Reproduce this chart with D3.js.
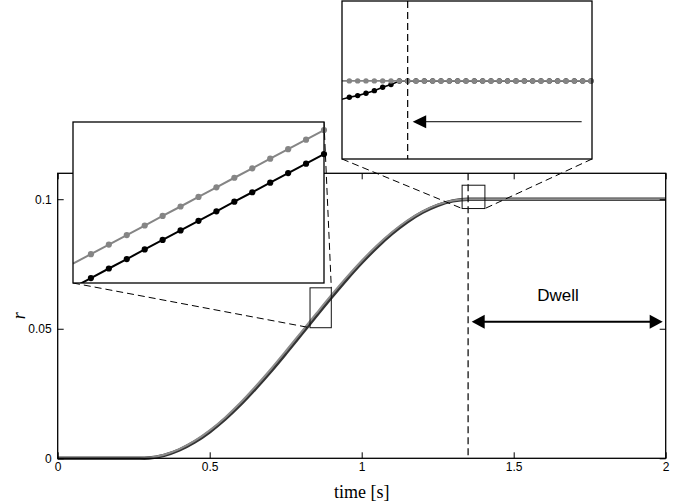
<!DOCTYPE html>
<html>
<head>
<meta charset="utf-8">
<script src="https://cdn.jsdelivr.net/npm/d3@7"></script>
<style>
  body { margin: 0; background: #fff; }
  text { font-family: "Liberation Sans", Arial, sans-serif; }
</style>
</head>
<body>
<svg id="chart" width="686" height="504"></svg>
<script>
// ---- data -------------------------------------------------------------
// time samples [s]
const time = [0, 0.25, 0.27,
  0.30, 0.35, 0.40, 0.45, 0.50, 0.55, 0.60, 0.65, 0.70, 0.75, 0.80,
  0.85, 0.90, 0.95, 1.00, 1.05, 1.10, 1.15, 1.20, 1.25, 1.30,
  1.35, 1.40, 2.00];
// reference position (grey trace)
const rRef = [0, 0, 0,
  0.00019, 0.00135, 0.00353, 0.00670, 0.01078, 0.01569, 0.02132, 0.02761, 0.03427, 0.04132, 0.04855,
  0.05580, 0.06294, 0.06980, 0.07625, 0.08214, 0.08735, 0.09177, 0.09532, 0.09790, 0.09947,
  0.1, 0.1, 0.1];
// measured position (black trace)
const rMeas = [0, 0, 0,
  0.00011, 0.00115, 0.00321, 0.00626, 0.01024, 0.01506, 0.02061, 0.02683, 0.03344, 0.04046, 0.04768,
  0.05494, 0.06210, 0.06900, 0.07551, 0.08147, 0.08677, 0.09129, 0.09495, 0.09765, 0.09934,
  0.09999, 0.1, 0.1];

const xTicks = [0, 0.5, 1, 1.5, 2];
const yTicks = [0, 0.05, 0.1];
const xTickLabels = ["0", "0.5", "1", "1.5", "2"];
const yTickLabels = ["0", "0.05", "0.1"];

// dwell phase: starts when the trace settles, lasts until the end
const dwellStart = 1.35;
const dwellEnd = 2.0;
const dwellLabel = "Dwell";

// detail A: mid-ramp, samples every 5 ms
const windowAx = [0.83, 0.90];
const windowAy = [0.0504, 0.0658];
const insetAy = [0.0515, 0.0636];
const tA = [0.830, 0.835, 0.840, 0.845, 0.850, 0.855, 0.860, 0.865,
  0.870, 0.875, 0.880, 0.885, 0.890, 0.895, 0.900];
const refA = [0.05295, 0.05367, 0.05439, 0.05510, 0.05582, 0.05654, 0.05725, 0.05797,
  0.05869, 0.05941, 0.06012, 0.06084, 0.06156, 0.06227, 0.06299];
const measA = [0.05115, 0.05187, 0.05259, 0.05330, 0.05402, 0.05474, 0.05545, 0.05617,
  0.05689, 0.05761, 0.05832, 0.05904, 0.05976, 0.06047, 0.06119];

// detail B: arrival at the set point, samples every 2.5 ms
const windowBx = [1.3303, 1.4053];
const windowBy = [0.0964, 0.1054];
const insetBy = [0.0956, 0.1045];
const tB = [1.3300, 1.3325, 1.3350, 1.3375, 1.3400, 1.3425, 1.3450, 1.3475,
  1.3500, 1.3525, 1.3550, 1.3575, 1.3600, 1.3625, 1.3650, 1.3675,
  1.3700, 1.3725, 1.3750, 1.3775, 1.3800, 1.3825, 1.3850, 1.3875,
  1.3900, 1.3925, 1.3950, 1.3975, 1.4000, 1.4025, 1.4050];
const refB = [0.1, 0.1, 0.1, 0.1, 0.1, 0.1, 0.1, 0.1,
  0.1, 0.1, 0.1, 0.1, 0.1, 0.1, 0.1, 0.1,
  0.1, 0.1, 0.1, 0.1, 0.1, 0.1, 0.1, 0.1,
  0.1, 0.1, 0.1, 0.1, 0.1, 0.1, 0.1];
const measB = [0.09895, 0.09908, 0.09917, 0.09930, 0.09945, 0.09964, 0.09979, 0.09999,
  0.1, 0.1, 0.1, 0.1, 0.1, 0.1, 0.1, 0.1,
  0.1, 0.1, 0.1, 0.1, 0.1, 0.1, 0.1, 0.1,
  0.1, 0.1, 0.1, 0.1, 0.1, 0.1, 0.1];
// pointer inside detail B (from, to) at level
const pointerB = [1.4022, 1.3515];
const pointerBy = 0.0977;

// ---- layout -----------------------------------------------------------
const svg = d3.select("#chart");
const plot = { left: 57.7, right: 665.7, top: 173.3, bottom: 458.3 };
const boxA = { left: 73, right: 324, top: 122, bottom: 283 };
const boxB = { left: 342, right: 592, top: 1, bottom: 159 };
const GREY = "#858585";

const x = d3.scaleLinear().domain([0, 2]).range([plot.left, plot.right]);
const y = d3.scaleLinear().domain([0, 0.11]).range([plot.bottom, plot.top]);

const mainRef = time.map((t, i) => [t, rRef[i]]);
const mainMeas = time.map((t, i) => [t, rMeas[i]]);

const line = d3.line().x(d => x(d[0])).y(d => y(d[1])).curve(d3.curveMonotoneX);

// ---- main axes --------------------------------------------------------
const main = svg.append("g");

main.append("path").datum(mainMeas).attr("d", line)
  .attr("fill", "none").attr("stroke", "#333").attr("stroke-width", 3.4);
main.append("path").datum(mainRef).attr("d", line)
  .attr("fill", "none").attr("stroke", "#8c8c8c").attr("stroke-width", 2);

const tick = 6;
main.append("g").attr("transform", `translate(0,${plot.bottom})`)
  .call(d3.axisBottom(x).tickValues(xTicks).tickSizeInner(-tick).tickSizeOuter(0)
    .tickPadding(4).tickFormat((d, i) => xTickLabels[i]));
main.append("g").attr("transform", `translate(0,${plot.top})`)
  .call(d3.axisTop(x).tickValues(xTicks).tickSizeInner(-tick).tickSizeOuter(0).tickFormat(""));
main.append("g").attr("transform", `translate(${plot.left},0)`)
  .call(d3.axisLeft(y).tickValues(yTicks).tickSizeInner(-tick).tickSizeOuter(0)
    .tickPadding(6).tickFormat((d, i) => yTickLabels[i]));
main.append("g").attr("transform", `translate(${plot.right},0)`)
  .call(d3.axisRight(y).tickValues(yTicks).tickSizeInner(-tick).tickSizeOuter(0).tickFormat(""));

main.selectAll(".domain").remove();
main.selectAll(".tick line").attr("stroke", "#000").attr("stroke-width", 1);
main.selectAll(".tick text").attr("font-size", 12).attr("fill", "#000")
  .attr("font-family", "'Liberation Sans', Arial, sans-serif");

main.append("rect")
  .attr("x", plot.left).attr("y", plot.top)
  .attr("width", plot.right - plot.left).attr("height", plot.bottom - plot.top)
  .attr("fill", "none").attr("stroke", "#000").attr("stroke-width", 1.3);

// axis titles
main.append("text")
  .attr("x", (plot.left + plot.right) / 2).attr("y", 498)
  .attr("text-anchor", "middle")
  .style("font-family", "'Liberation Serif', 'DejaVu Serif', serif")
  .attr("font-size", 18).text("time [s]");
main.append("text")
  .attr("transform", `translate(25,${(plot.top + plot.bottom) / 2}) rotate(-90)`)
  .attr("text-anchor", "middle")
  .style("font-family", "'Liberation Serif', 'DejaVu Serif', serif")
  .style("font-style", "italic")
  .attr("font-size", 18).text("r");

// settling instant
main.append("line")
  .attr("x1", x(dwellStart)).attr("x2", x(dwellStart))
  .attr("y1", plot.top).attr("y2", plot.bottom)
  .attr("stroke", "#000").attr("stroke-width", 1.2).attr("stroke-dasharray", "7,4");

// filled arrowhead with its tip at (tx, ty) pointing in direction dir (+1 right, -1 left)
function arrowHead(g, tx, ty, dir, len, half) {
  g.append("path")
    .attr("d", `M${tx},${ty} L${tx - dir * len},${ty - half} L${tx - dir * len},${ty + half} Z`)
    .attr("fill", "#000");
}

// dwell span
const dwY = y(0.0527);
const dwL = x(dwellStart) + 3.6, dwR = x(dwellEnd) - 3;
main.append("line").attr("x1", dwL + 10).attr("x2", dwR - 10)
  .attr("y1", dwY).attr("y2", dwY).attr("stroke", "#000").attr("stroke-width", 2.2);
arrowHead(main, dwL, dwY, -1, 13, 7);
arrowHead(main, dwR, dwY, 1, 13, 7);
main.append("text")
  .attr("x", x(1.646)).attr("y", y(0.0608))
  .attr("text-anchor", "middle").attr("font-size", 17).text(dwellLabel);

// ---- detail windows and leader lines ----------------------------------
const deco = svg.append("g");
function windowRect(wx, wy) {
  deco.append("rect")
    .attr("x", x(wx[0])).attr("y", y(wy[1]))
    .attr("width", x(wx[1]) - x(wx[0])).attr("height", y(wy[0]) - y(wy[1]))
    .attr("fill", "none").attr("stroke", "#111").attr("stroke-width", 1);
}
function leader(x1, y1, x2, y2) {
  deco.append("line").attr("x1", x1).attr("y1", y1).attr("x2", x2).attr("y2", y2)
    .attr("stroke", "#000").attr("stroke-width", 1).attr("stroke-dasharray", "7,4");
}
windowRect(windowAx, windowAy);
windowRect(windowBx, windowBy);
leader(boxA.left, boxA.bottom, x(windowAx[0]), y(windowAy[0]));
leader(boxA.right, boxA.top, x(windowAx[1]), y(windowAy[1]));
leader(boxB.left, boxB.bottom, x(windowBx[0]), y(windowBy[0]));
leader(boxB.right, boxB.bottom, x(windowBx[1]), y(windowBy[0]));

// ---- detail insets ----------------------------------------------------
function inset(id, box, xd, yd, t, ref, meas, lw, rad) {
  const g = svg.append("g");
  const sx = d3.scaleLinear().domain(xd).range([box.left, box.right]);
  const sy = d3.scaleLinear().domain(yd).range([box.bottom, box.top]);
  g.append("rect").attr("x", box.left).attr("y", box.top)
    .attr("width", box.right - box.left).attr("height", box.bottom - box.top)
    .attr("fill", "#fff");
  g.append("clipPath").attr("id", id).append("rect")
    .attr("x", box.left).attr("y", box.top)
    .attr("width", box.right - box.left).attr("height", box.bottom - box.top);
  const ln = d3.line().x(d => sx(d[0])).y(d => sy(d[1]));
  const inside = d => d[0] > xd[0] && d[0] <= xd[1] + 1e-9 && d[1] >= yd[0] && d[1] <= yd[1];
  const series = [
    { pts: t.map((v, i) => [v, meas[i]]), color: "#000" },
    { pts: t.map((v, i) => [v, ref[i]]), color: GREY }
  ];
  series.forEach(s => {
    g.append("path").datum(s.pts).attr("d", ln).attr("clip-path", `url(#${id})`)
      .attr("fill", "none").attr("stroke", s.color).attr("stroke-width", lw);
    g.selectAll(null).data(s.pts.filter(inside)).join("circle")
      .attr("cx", d => sx(d[0])).attr("cy", d => sy(d[1])).attr("r", rad)
      .attr("fill", s.color);
  });
  return { g, sx, sy };
}

const A = inset("clipA", boxA, windowAx, insetAy, tA, refA, measA, 2, 3.1);
A.g.append("rect").attr("x", boxA.left).attr("y", boxA.top)
  .attr("width", boxA.right - boxA.left).attr("height", boxA.bottom - boxA.top)
  .attr("fill", "none").attr("stroke", "#000").attr("stroke-width", 1.3);

const B = inset("clipB", boxB, windowBx, insetBy, tB, refB, measB, 1.6, 2.7);
B.g.append("line")
  .attr("x1", B.sx(dwellStart)).attr("x2", B.sx(dwellStart))
  .attr("y1", boxB.top).attr("y2", boxB.bottom)
  .attr("stroke", "#000").attr("stroke-width", 1.2).attr("stroke-dasharray", "7,4");
const pY = B.sy(pointerBy);
B.g.append("line")
  .attr("x1", B.sx(pointerB[0])).attr("x2", B.sx(pointerB[1]) + 12)
  .attr("y1", pY).attr("y2", pY).attr("stroke", "#000").attr("stroke-width", 1);
arrowHead(B.g, B.sx(pointerB[1]), pY, -1, 13.5, 6.5);
B.g.append("rect").attr("x", boxB.left).attr("y", boxB.top)
  .attr("width", boxB.right - boxB.left).attr("height", boxB.bottom - boxB.top)
  .attr("fill", "none").attr("stroke", "#000").attr("stroke-width", 1.3);
</script>
</body>
</html>
